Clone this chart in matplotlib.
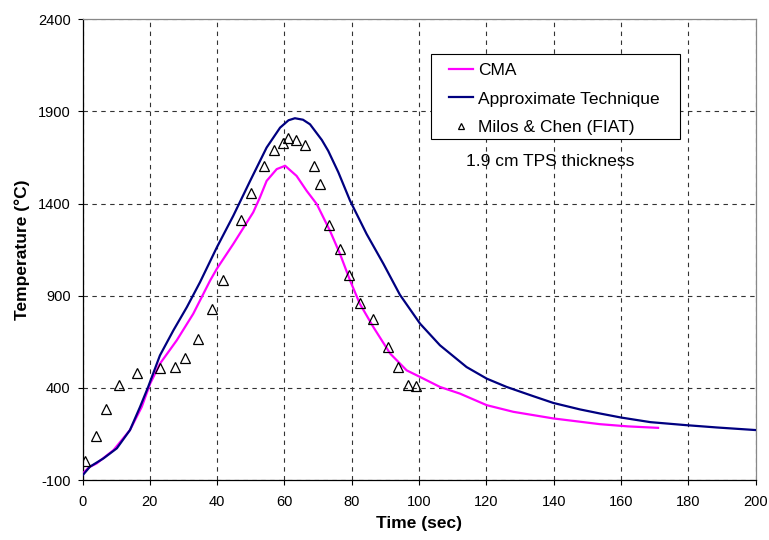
import matplotlib
matplotlib.use("Agg")
import matplotlib.pyplot as plt
from matplotlib.patches import Rectangle

plt.rcParams['font.family'] = ['Liberation Sans', 'DejaVu Sans']
plt.rcParams['axes.unicode_minus'] = False

# CMA curve
cma_t = [0, 2.0, 4.2, 9.2, 14.1, 17.6, 20.1, 23.0, 28.0, 32.9, 37.9, 39.9, 44.8,
         50.7, 52.7, 54.7, 57.7, 60.2, 63.6, 66.6, 69.6, 73.5, 76.5, 79.5, 82.4,
         86.4, 91.4, 96.3, 100.3, 106.2, 112.1, 120.1, 128.0, 139.9, 153.7, 162.0, 171.0]
cma_T = [-66, -30, -10, 62, 171, 297, 423, 531, 658, 802, 982, 1046, 1181,
         1352, 1433, 1523, 1587, 1605, 1550, 1469, 1397, 1253, 1127, 982, 856,
         730, 586, 495, 459, 405, 369, 306, 270, 234, 203, 191, 183]

# Approximate technique curve
apx_t = [0, 2.2, 6.2, 10.2, 14.1, 17.1, 19.5, 23.0, 27.0, 31.0, 34.9, 39.9, 44.8,
         49.8, 54.7, 58.7, 61.2, 63.1, 65.5, 67.6, 71.1, 73.0, 76.0, 79.5, 84.4,
         89.4, 94.3, 100.3, 106.2, 114.1, 120.1, 126.0, 133.9, 139.9, 147.8, 153.7,
         160.0, 168.7, 179.1, 188.5, 200.0]
apx_T = [-75, -28, 17, 72, 171, 297, 405, 576, 712, 838, 973, 1162, 1334,
         1523, 1704, 1812, 1852, 1863, 1855, 1830, 1745, 1686, 1570, 1415, 1235,
         1073, 905, 748, 631, 513, 450, 405, 355, 318, 283, 261,
         239, 214, 198, 185, 171]

# Milos & Chen (FIAT) data
fiat_t = [0.6, 4.0, 7.0, 10.9, 16.2, 23.1, 27.5, 30.5, 34.2, 38.5, 41.7, 47.2, 50.1,
          53.8, 56.8, 59.6, 61.0, 63.3, 66.2, 68.8, 70.6, 73.2, 76.4, 79.3, 82.4,
          86.2, 90.7, 93.6, 96.7, 99.0]
fiat_T = [5, 138, 288, 418, 481, 508, 513, 564, 663, 827, 986, 1312, 1460,
          1605, 1689, 1727, 1754, 1743, 1716, 1605, 1505, 1284, 1152, 1015, 862,
          771, 621, 515, 418, 410]

fig = plt.figure(figsize=(7.69, 5.4), dpi=100)
ax = fig.add_axes([0.1073, 0.1111, 0.8754, 0.8532])

ax.plot(cma_t, cma_T, color='#FF00FF', lw=1.6, label='CMA', zorder=3)
ax.plot(apx_t, apx_T, color='#000080', lw=1.6, label='Approximate Technique', zorder=3)
ax.plot(fiat_t, fiat_T, ls='none', marker='^', ms=6.5, mfc='none', mec='black',
        mew=0.9, label='Milos & Chen (FIAT)', zorder=4)

ax.set_xlim(0, 200)
ax.set_ylim(-100, 2400)
ax.set_xticks(range(0, 201, 20))
ax.set_yticks(range(-100, 2401, 500))
ax.tick_params(direction='out', length=3.5, labelsize=10.5, width=0.8)
ax.tick_params(axis='x', pad=7.5)
ax.tick_params(axis='y', pad=5)
ax.grid(True, color='#333333', ls=(0, (4, 4)), lw=0.8)

for s in ['top', 'right']:
    ax.spines[s].set_color('#888888')
    ax.spines[s].set_linewidth(0.9)
for s in ['left', 'bottom']:
    ax.spines[s].set_color('black')
    ax.spines[s].set_linewidth(0.9)

ax.set_xlabel('Time (sec)', fontsize=12.5, fontweight='bold', labelpad=4.5)
ax.set_ylabel('Temperature (°C)', fontsize=12.5, fontweight='bold', labelpad=6)

# legend box drawn separately for its uneven padding
ax.add_patch(Rectangle((0.5177, 0.7395), 0.3698, 0.1852, transform=ax.transAxes,
                       facecolor='white', edgecolor='black', lw=0.8, zorder=5))
leg = ax.legend(loc='upper left', bbox_to_anchor=(0.5444, 0.9058), fontsize=12.5,
                frameon=False, handlelength=1.4, handletextpad=0.25, borderpad=0,
                labelspacing=0.78, markerscale=0.6, borderaxespad=0)
leg.set_zorder(6)

ax.text(0.6945, 0.691, '1.9 cm TPS thickness', transform=ax.transAxes, fontsize=12.5,
        ha='center', va='center')

fig.savefig('out.png', dpi=100)
